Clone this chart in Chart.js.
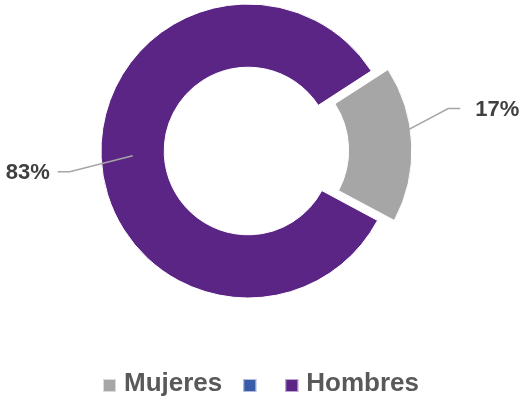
<!DOCTYPE html>
<html>
<head>
<meta charset="utf-8">
<title>Mujeres / Hombres</title>
<script src="https://cdn.jsdelivr.net/npm/chart.js"></script>
</head>
<style>
html, body {
  margin: 0;
  padding: 0;
  background: #fff;
}
#chart-container {
  width: 522px;
  height: 400px;
}
</style>
<body>
<div id="chart-container">
  <canvas id="chart"></canvas>
</div>
</body>
<script>
// data
const labels = ['Mujeres', '', 'Hombres'];
const values = [17, 0, 83];
const colors = ['#a6a6a6', '#3a5ca8', '#5b2586'];

const total = values.reduce((a, b) => a + b, 0);

// percentage callouts with leader lines
const callouts = {
  id: 'callouts',
  afterDatasetsDraw(chart, args, opts) {
    const ctx = chart.ctx;
    const meta = chart.getDatasetMeta(0);
    meta.data.forEach((arc, i) => {
      if (!values[i]) return;
      const p = arc.getProps(['x', 'y', 'startAngle', 'endAngle', 'innerRadius', 'outerRadius']);
      const mid = (p.startAngle + p.endAngle) / 2;
      const shift = (arc.options.offset || 0) / 4;
      const r = (p.innerRadius + p.outerRadius) / 2 + shift;
      const ax = p.x + Math.cos(mid) * r;
      const ay = p.y + Math.sin(mid) * r;
      const ex = ax + opts.dx[i];
      const ey = ay + opts.dy[i];
      const side = opts.dx[i] > 0 ? 1 : -1;
      const lx = ex + side * opts.tail;

      ctx.save();
      ctx.strokeStyle = '#a6a6a6';
      ctx.lineWidth = 1.5;
      ctx.beginPath();
      ctx.moveTo(ax, ay);
      ctx.lineTo(ex, ey);
      ctx.lineTo(lx, ey);
      ctx.stroke();

      ctx.fillStyle = '#404040';
      ctx.font = 'bold 22px "Liberation Sans", Arial, sans-serif';
      ctx.textBaseline = 'middle';
      ctx.textAlign = side > 0 ? 'left' : 'right';
      const txt = Math.round(values[i] / total * 100) + '%';
      ctx.fillText(txt, lx + side * opts.gap[i], ey + 1);
      ctx.restore();
    });
  }
};

// legend drawn under the ring
const bottomLegend = {
  id: 'bottomLegend',
  afterDraw(chart, args, opts) {
    const ctx = chart.ctx;
    ctx.save();
    ctx.font = 'bold 26px "Liberation Sans", Arial, sans-serif';
    ctx.textBaseline = 'middle';
    ctx.textAlign = 'left';
    const box = 13, gap = 8, spacing = 21;
    const widths = labels.map(t => ctx.measureText(t).width);
    let full = 0;
    widths.forEach((w, i) => {
      full += box + gap + w + (i < labels.length - 1 ? spacing : 0);
    });
    let x = chart.width / 2 - full / 2;
    const y = opts.y;
    labels.forEach((t, i) => {
      ctx.fillStyle = colors[i];
      ctx.fillRect(x, y - 4, box, box);
      ctx.strokeStyle = 'rgba(255,255,255,0.6)';
      ctx.lineWidth = 1;
      ctx.strokeRect(x + 0.5, y - 3.5, box - 1, box - 1);
      x += box + gap;
      ctx.fillStyle = '#595959';
      ctx.fillText(t, x, y + 1);
      x += widths[i] + spacing;
    });
    ctx.restore();
  }
};

const chart = new Chart(document.getElementById('chart'), {
  type: 'doughnut',
  data: {
    labels: labels,
    datasets: [{
      data: values,
      backgroundColor: colors,
      borderColor: '#ffffff',
      borderWidth: 1,
      offset: [60, 0, 0]
    }]
  },
  options: {
    responsive: true,
    maintainAspectRatio: false,
    animation: false,
    rotation: 57,
    cutout: '57%',
    radius: 147,
    layout: {
      padding: { left: 0, right: 26, top: 0, bottom: 98 }
    },
    plugins: {
      legend: { display: false },
      tooltip: { enabled: false },
      callouts: {
        dx: [70, 0, -63],
        dy: [-37, 0, 16],
        tail: 12,
        gap: [15, 0, 8]
      },
      bottomLegend: { y: 383 }
    }
  },
  plugins: [callouts, bottomLegend]
});
</script>
</html>
